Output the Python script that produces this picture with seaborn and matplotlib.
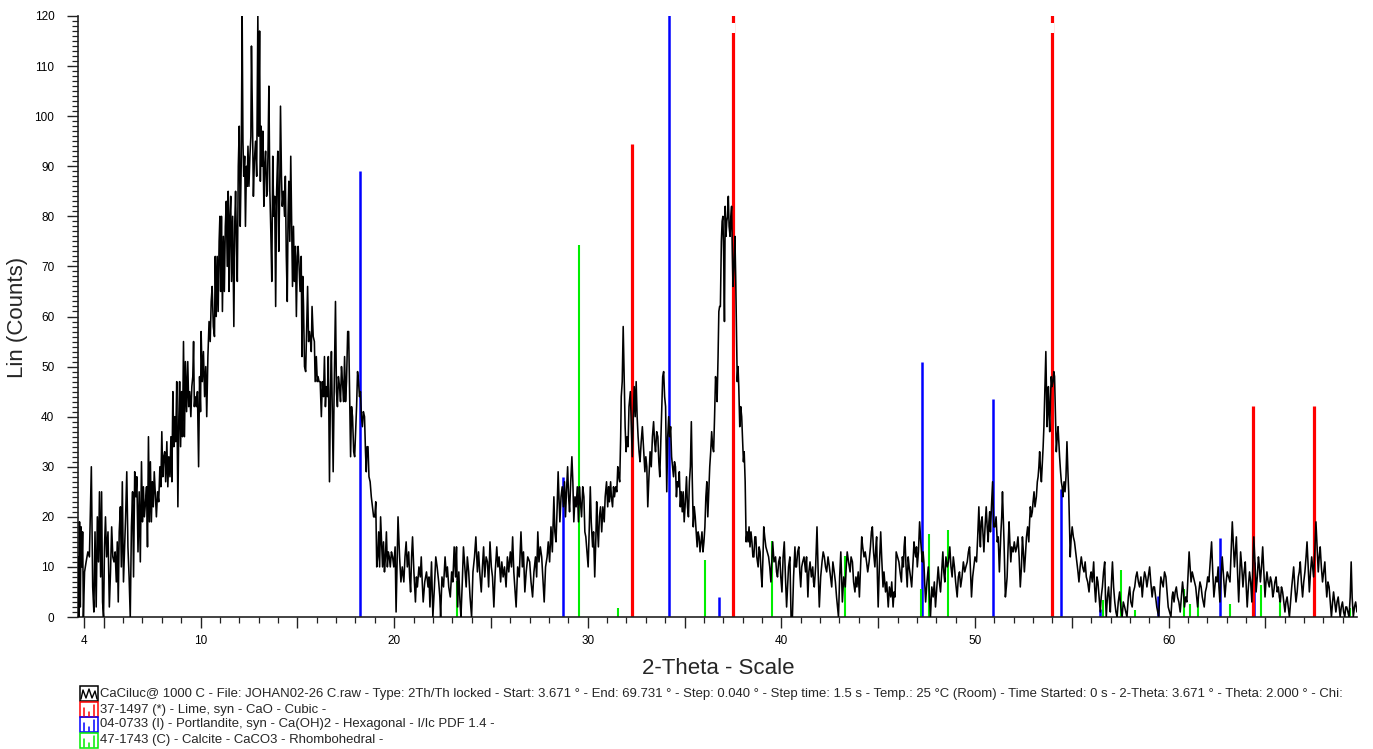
import numpy as np
import pandas as pd
import matplotlib
matplotlib.use("Agg")
import matplotlib.pyplot as plt
import seaborn as sns
from matplotlib.patches import Rectangle
from matplotlib.lines import Line2D

sns.set_style("ticks")
plt.rcParams["font.family"] = ["Liberation Sans", "DejaVu Sans"]

# ---------------- data ----------------
x_min, x_max = 3.671, 69.731
y_max = 120

seg_a = [(3.67,12),(3.71,0),(3.75,19),(3.79,2),(3.83,18),(3.87,10),(3.91,17),(3.95,0),(4.01,9),(4.09,11),
 (4.18,13),(4.26,12),(4.36,30),(4.43,6),(4.49,1),(4.55,17),(4.61,2),(4.67,20),(4.73,11),(4.78,25),(4.84,8),
 (4.89,25),(4.94,3),(4.99,0),(5.04,14),(5.09,20),(5.15,12),(5.22,17),(5.29,2),(5.35,9),(5.41,18),(5.47,12),
 (5.53,11),(5.59,13),(5.65,7),(5.7,15),(5.75,3),(5.8,17),(5.86,22),(5.91,10),(5.96,27),(6.02,7),(6.08,14),
 (6.13,20),(6.19,29),(6.25,14),(6.31,8),(6.37,0),(6.43,18),(6.49,25),(6.54,8),(6.6,29),(6.66,24),(6.71,28),
 (6.77,13),(6.83,25),(6.89,11),(6.95,31),(7.0,19),(7.05,26),(7.1,20),(7.16,23),(7.21,26),(7.26,14),(7.31,36),
 (7.36,19),(7.41,31),(7.46,19),(7.51,27),(7.56,22),(7.61,29),(7.67,24),(7.72,20),(7.78,25),(7.84,23),(7.9,30),
 (7.95,26),(8.0,37),(8.05,28),(8.1,32),(8.15,33),(8.2,27),(8.26,35),(8.31,26),(8.36,32),(8.42,28),(8.47,36),
 (8.52,27),(8.57,45),(8.62,34),(8.67,40),(8.72,35),(8.77,47),(8.83,22),(8.88,40),(8.92,47),(8.97,34),(9.02,45),
 (9.07,36),(9.12,55),(9.17,36),(9.22,51),(9.28,41),(9.34,51),(9.39,42),(9.44,45),(9.5,40),(9.55,46),(9.6,48),
 (9.64,55),(9.68,42),(9.72,44),(9.78,42),(9.84,45),(9.9,30),(9.95,48),(10.0,41)]

seg_b = [(10.03,57),(10.09,47),(10.15,53),(10.21,44),(10.27,50),(10.32,40),(10.38,52),(10.44,59),(10.5,55),
 (10.55,63),(10.6,66),(10.66,58),(10.72,56),(10.76,72),(10.81,60),(10.86,72),(10.91,61),(10.96,75),(11.0,80),
 (11.04,65),(11.08,80),(11.13,61),(11.18,76),(11.23,65),(11.28,78),(11.33,83),(11.38,70),(11.43,85),(11.47,65),
 (11.52,80),(11.56,84),(11.6,67),(11.66,80),(11.72,58),(11.77,79),(11.81,85),(11.86,74),(11.9,67),(11.95,90),
 (12.0,98),(12.05,78),(12.1,90),(12.15,120),(12.19,95),(12.23,88),(12.28,92),(12.32,78),(12.37,90),(12.41,86),
 (12.45,94),(12.5,86),(12.55,92),(12.6,96),(12.63,114),(12.68,100),(12.73,84),(12.78,91),(12.84,95),(12.9,88),
 (12.96,120),(13.0,96),(13.05,117),(13.09,87),(13.13,98),(13.18,90),(13.22,97),(13.27,82),(13.31,90),(13.36,93),
 (13.41,84),(13.45,85),(13.49,94),(13.53,106),(13.58,85),(13.63,77),(13.68,67),(13.73,92),(13.78,80),(13.83,84),
 (13.88,62),(13.93,85),(13.99,93),(14.04,73),(14.09,85),(14.13,102),(14.18,88),(14.22,82),(14.28,85),(14.34,80),
 (14.38,88),(14.43,72),(14.48,63),(14.52,80),(14.56,87),(14.61,75),(14.66,92),(14.7,80),(14.75,66),(14.8,78),
 (14.85,67),(14.9,74),(14.95,60),(15.0,72),(15.04,74),(15.09,70),(15.14,65),(15.2,72),(15.24,52),(15.28,68),
 (15.32,62),(15.37,50),(15.43,49),(15.48,58),(15.53,66),(15.58,55),(15.63,57),(15.68,55),(15.72,53),(15.76,62),
 (15.82,56),(15.88,55),(15.92,47),(15.98,52),(16.03,47),(16.07,48),(16.12,47),(16.18,47),(16.24,40),(16.29,47),
 (16.35,44),(16.4,52),(16.45,42),(16.5,46),(16.55,44),(16.6,52),(16.66,27),(16.71,45),(16.76,53),(16.81,40),
 (16.85,29),(16.9,45),(16.97,63),(17.02,45),(17.07,42),(17.12,48),(17.18,46),(17.23,43),(17.28,50),(17.33,47),
 (17.39,43),(17.44,52),(17.49,43),(17.54,47),(17.6,57),(17.65,57),(17.7,45),(17.75,32),(17.8,42),(17.85,40),
 (17.91,33),(17.96,32),(18.01,37),(18.06,42),(18.11,49),(18.16,47),(18.21,44),(18.26,45),(18.31,40),(18.36,38),
 (18.41,41),(18.47,40),(18.52,33),(18.56,29),(18.6,34),(18.65,34),(18.7,28),(18.76,27),(18.82,24),(18.88,22),
 (18.94,20),(19.0,20),(19.05,23),(19.1,10),(19.15,12),(19.2,17),(19.25,10),(19.3,20),(19.35,15),(19.4,10),
 (19.45,15),(19.5,9),(19.55,12),(19.6,17),(19.65,10),(19.7,13),(19.75,12),(19.8,10),(19.86,13),(19.92,12),
 (19.98,10),(20.05,14),(20.1,1),(20.15,10),(20.2,20)]

seg_c = [(20.28,12),(20.35,7),(20.42,10),(20.5,7),(20.56,12),(20.62,15),(20.68,10),(20.75,13),(20.8,8),(20.85,5),
 (20.9,12),(20.95,16),(21.02,9),(21.1,3),(21.15,8),(21.2,6),(21.28,10),(21.35,8),(21.4,12),(21.45,7),(21.5,3),
 (21.58,7),(21.67,9),(21.75,6),(21.8,8),(21.85,2),(21.93,11),(22.0,0),(22.08,6),(22.15,12),(22.22,10),(22.3,7),
 (22.36,4),(22.4,0),(22.47,8),(22.55,6),(22.63,12),(22.7,8),(22.75,10),(22.82,6),(22.9,4),(22.97,9),(23.03,7),
 (23.1,14),(23.17,8),(23.22,14),(23.28,2),(23.34,9),(23.4,3),(23.45,0),(23.52,7),(23.58,14),(23.65,10),(23.72,6),
 (23.78,12),(23.85,9),(23.92,4),(24.0,0),(24.07,9),(24.15,12),(24.22,16),(24.3,9),(24.36,13),(24.42,9),(24.5,5),
 (24.56,10),(24.62,14),(24.68,8),(24.75,12),(24.82,11),(24.88,6),(24.95,15),(25.02,10),(25.08,8),(25.15,2),
 (25.22,9),(25.3,14),(25.36,10),(25.42,12),(25.5,7),(25.56,11),(25.63,8),(25.7,10),(25.78,6),(25.85,12),(25.92,9),
 (26.0,13),(26.06,10),(26.12,16),(26.18,9),(26.25,5),(26.3,2),(26.38,10),(26.46,8),(26.55,17),(26.62,10),
 (26.68,13),(26.75,5),(26.82,9),(26.9,12),(27.0,11),(27.07,7),(27.15,4),(27.22,9),(27.3,12),(27.36,8),(27.42,17),
 (27.48,11),(27.55,14),(27.62,12),(27.68,8),(27.75,3),(27.82,10),(27.9,12),(27.96,15),(28.03,11),(28.1,18),
 (28.17,13),(28.25,24),(28.3,17),(28.36,15),(28.42,22),(28.47,29),(28.52,23),(28.56,19),(28.62,24),(28.68,26),
 (28.74,22),(28.8,27),(28.85,20),(28.9,25),(28.96,30),(29.01,24),(29.06,21),(29.12,27),(29.18,32),(29.23,27),
 (29.28,19),(29.34,24),(29.4,22),(29.46,26),(29.52,19),(29.57,26),(29.62,23),(29.68,20),(29.74,26),(29.8,24),
 (29.85,17),(29.9,16),(29.96,13),(30.02,10),(30.08,18),(30.13,26),(30.18,19),(30.25,14),(30.3,17),(30.36,8),
 (30.42,16),(30.46,23),(30.5,18),(30.55,14),(30.6,20),(30.66,22),(30.72,17),(30.78,22),(30.85,19),(30.9,24),
 (30.97,27),(31.03,22),(31.08,26),(31.12,23),(31.18,27),(31.22,24),(31.28,22),(31.33,26),(31.38,24),(31.44,26),
 (31.5,25),(31.55,30),(31.6,28),(31.65,27)]

seg_d = [(31.7,36),(31.73,44),(31.78,47),(31.83,58),(31.88,48),(31.93,38),(31.98,33),(32.03,36),(32.08,34),
 (32.13,42),(32.2,45),(32.25,38),(32.3,32),(32.35,40),(32.4,46),(32.45,40),(32.5,47),(32.55,40),(32.6,36),
 (32.65,33),(32.7,31),(32.76,35),(32.82,38),(32.88,34),(32.95,29),(33.0,32),(33.05,30),(33.1,22),(33.16,28),
 (33.22,33),(33.28,30),(33.34,36),(33.4,39),(33.45,35),(33.5,33),(33.56,37),(33.62,36),(33.67,31),(33.72,28),
 (33.78,36),(33.83,42),(33.87,48),(33.92,49),(33.97,44),(34.02,42),(34.08,25),(34.13,36),(34.18,40),(34.23,36),
 (34.28,38),(34.33,32),(34.38,30),(34.43,28),(34.48,31),(34.53,30),(34.58,24),(34.63,27),(34.68,26),(34.73,29),
 (34.78,22),(34.83,25),(34.88,21),(34.93,25),(34.98,19),(35.04,23),(35.1,28),(35.15,22),(35.2,20),(35.25,27),
 (35.3,30),(35.35,39),(35.4,27),(35.45,18),(35.5,22),(35.55,20),(35.6,17),(35.65,14),(35.7,17),(35.75,16),
 (35.8,13),(35.85,15),(35.9,17),(35.95,13),(36.0,15),(36.05,18),(36.1,24),(36.15,27),(36.2,20),(36.25,25),
 (36.3,30),(36.35,33),(36.4,37),(36.45,34),(36.5,33),(36.55,40),(36.6,48),(36.65,46),(36.68,43),(36.73,52),
 (36.77,61),(36.81,62),(36.85,62),(36.9,75),(36.94,79),(36.98,80),(37.02,72),(37.06,59),(37.1,82),(37.14,76),
 (37.18,79),(37.22,80),(37.26,84),(37.3,78),(37.35,76),(37.39,80),(37.43,82),(37.47,72),(37.5,66),(37.55,70),
 (37.6,76),(37.64,68),(37.68,58),(37.72,47),(37.76,50),(37.8,46),(37.85,38),(37.9,42),(37.95,40),(38.0,35),
 (38.04,31),(38.08,33),(38.13,27),(38.18,15),(38.23,17),(38.28,15),(38.33,18),(38.38,14),(38.43,17),(38.48,15),
 (38.53,12),(38.58,12),(38.63,16),(38.68,16),(38.73,12),(38.8,10),(38.85,14),(38.9,13),(38.95,9),(39.0,6),
 (39.05,12),(39.09,18),(39.14,16),(39.2,14),(39.27,13),(39.34,12),(39.4,10),(39.46,7),(39.55,15),(39.62,11),
 (39.7,12),(39.75,9),(39.8,8),(39.86,11),(39.92,12),(39.97,8),(40.03,5),(40.09,12),(40.15,15),(40.21,8),
 (40.27,2),(40.32,6),(40.37,10),(40.44,12),(40.5,0)]

seg_e = [(40.57,0),(40.63,8),(40.7,14),(40.74,10),(40.78,10),(40.84,13),(40.9,14),(40.95,9),(41.0,6),(41.05,10),
 (41.1,11),(41.17,12),(41.25,9),(41.3,12),(41.37,4),(41.42,9),(41.48,11),(41.55,8),(41.62,10),(41.66,7),(41.7,6),
 (41.77,10),(41.84,18),(41.9,9),(41.96,2),(42.03,8),(42.1,11),(42.16,13),(42.22,12),(42.28,10),(42.34,9),
 (42.41,12),(42.48,10),(42.54,8),(42.6,6),(42.66,11),(42.73,9),(42.79,7),(42.85,4),(42.9,2),(42.95,0),(43.01,8),
 (43.07,13),(43.12,7),(43.15,3),(43.22,8),(43.3,6),(43.35,10),(43.4,13),(43.47,11),(43.55,9),(43.6,12),(43.67,11),
 (43.73,7),(43.8,5),(43.85,8),(43.9,6),(43.97,9),(44.03,4),(44.09,10),(44.15,16),(44.2,14),(44.27,12),(44.33,13),
 (44.4,11),(44.46,9),(44.53,11),(44.6,14),(44.65,17),(44.7,18),(44.76,13),(44.83,10),(44.88,14),(44.92,16),
 (44.96,8),(45.0,2),(45.06,10),(45.13,17),(45.18,12),(45.25,6),(45.3,9),(45.38,5),(45.44,7),(45.52,2),(45.58,6),
 (45.65,4),(45.7,7),(45.77,2),(45.82,5),(45.87,4),(45.93,13),(46.0,12),(46.07,11),(46.13,9),(46.2,7),(46.25,12),
 (46.3,10),(46.34,14),(46.38,16),(46.44,10),(46.5,6),(46.55,12),(46.6,10),(46.67,8),(46.73,6),(46.8,11),
 (46.85,15),(46.9,13),(46.94,12),(46.98,14),(47.02,10),(47.08,13),(47.14,19),(47.2,15),(47.28,11),(47.32,13),
 (47.36,11),(47.4,7),(47.45,3),(47.52,7),(47.59,10),(47.64,5),(47.7,0),(47.77,6),(47.84,4),(47.9,7),(47.96,2),
 (48.03,6),(48.1,10),(48.16,7),(48.22,5),(48.28,9),(48.34,13),(48.39,9),(48.44,7),(48.5,12),(48.57,10),(48.63,11),
 (48.7,14),(48.76,10),(48.82,8),(48.88,12),(48.94,10),(49.0,7),(49.08,4),(49.14,8),(49.2,9),(49.26,6),(49.33,8),
 (49.4,11),(49.47,9),(49.53,10),(49.6,11),(49.66,13),(49.72,14),(49.77,9),(49.82,4),(49.88,8),(49.94,10)]

seg_f = [(50.0,12),(50.08,11),(50.14,16),(50.2,22),(50.24,17),(50.28,14),(50.32,19),(50.37,20),(50.42,16),
 (50.46,13),(50.52,18),(50.58,22),(50.63,18),(50.68,15),(50.72,19),(50.76,21),(50.8,17),(50.85,22),(50.91,27),
 (50.97,18),(51.03,18),(51.09,20),(51.15,15),(51.2,16),(51.26,9),(51.3,13),(51.34,17),(51.38,20),(51.42,25),
 (51.46,20),(51.5,15),(51.57,4),(51.62,6),(51.66,8),(51.71,14),(51.76,19),(51.8,15),(51.85,11),(51.9,14),
 (51.97,13),(52.03,15),(52.1,13),(52.16,14),(52.22,16),(52.28,12),(52.34,6),(52.4,10),(52.45,16),(52.5,13),
 (52.55,9),(52.6,12),(52.66,16),(52.72,18),(52.78,15),(52.82,19),(52.86,22),(52.91,20),(52.96,21),(53.0,23),
 (53.05,25),(53.1,22),(53.17,24),(53.22,27),(53.26,28),(53.3,30),(53.34,33),(53.39,29),(53.43,27),(53.48,31),
 (53.52,34),(53.56,38),(53.6,44),(53.66,53),(53.69,45),(53.72,38),(53.76,42),(53.79,46),(53.83,40),(53.86,37),
 (53.9,44),(53.94,48),(53.98,46),(54.03,47),(54.07,49),(54.11,48),(54.16,40),(54.2,33),(54.25,36),(54.29,38),
 (54.33,35),(54.37,32),(54.42,29),(54.46,27),(54.5,26),(54.54,24),(54.6,27),(54.65,25),(54.7,28),(54.75,35),
 (54.8,29),(54.84,25),(54.88,18),(54.92,12),(54.97,16),(55.02,18),(55.08,16),(55.14,15),(55.2,13),(55.26,11),
 (55.32,9),(55.37,7),(55.43,10),(55.49,12),(55.56,10),(55.63,9),(55.69,11),(55.75,8),(55.82,7),(55.89,5),
 (55.95,8),(56.0,9),(56.06,7),(56.13,11),(56.18,6),(56.23,3),(56.3,8),(56.35,7),(56.41,4),(56.47,1),(56.52,4),
 (56.58,6),(56.64,9),(56.7,11),(56.74,4),(56.78,0),(56.84,4),(56.9,6),(56.95,3),(56.99,1),(57.05,7),(57.1,11),
 (57.16,6),(57.22,3),(57.28,1),(57.34,0),(57.4,3),(57.47,5),(57.53,2),(57.6,0),(57.66,3),(57.73,2),(57.79,1),
 (57.85,0),(57.92,4),(57.99,6),(58.05,3),(58.12,2),(58.18,5),(58.25,6),(58.31,8),(58.37,9),(58.44,7),(58.5,6),
 (58.57,8),(58.64,4),(58.7,7),(58.76,9),(58.82,8),(58.88,6),(58.95,8),(59.02,10),(59.08,7),(59.15,4),(59.21,6),
 (59.27,6),(59.33,4),(59.39,2),(59.44,1),(59.49,0),(59.55,5),(59.6,8),(59.66,7),(59.72,6),(59.79,9),(59.86,8),
 (59.92,5),(59.98,2),(60.05,1),(60.12,0)]

seg_g = [(60.18,4),(60.22,5),(60.28,3),(60.34,5),(60.4,6),(60.46,4),(60.53,3),(60.6,1),(60.66,4),(60.72,7),
 (60.77,5),(60.82,2),(60.88,4),(60.94,3),(61.0,8),(61.06,13),(61.11,10),(61.16,7),(61.22,9),(61.28,8),(61.34,7),
 (61.4,6),(61.45,4),(61.5,2),(61.56,5),(61.62,7),(61.68,6),(61.74,4),(61.79,3),(61.84,2),(61.9,5),(61.96,6),
 (62.02,8),(62.08,7),(62.15,11),(62.22,15),(62.28,9),(62.34,4),(62.39,6),(62.44,8),(62.5,7),(62.56,10),(62.6,6),
 (62.65,3),(62.71,8),(62.77,12),(62.84,8),(62.91,4),(62.97,7),(63.03,9),(63.1,8),(63.17,7),(63.23,13),(63.29,19),
 (63.34,15),(63.4,10),(63.45,13),(63.5,16),(63.56,9),(63.62,3),(63.67,8),(63.72,13),(63.78,10),(63.84,6),
 (63.9,9),(63.96,11),(64.01,6),(64.06,2),(64.12,6),(64.18,9),(64.24,7),(64.3,3),(64.35,10),(64.4,16),(64.46,11),
 (64.52,5),(64.58,8),(64.64,12),(64.69,10),(64.74,7),(64.8,10),(64.86,14),(64.92,9),(64.98,4),(65.03,7),(65.08,9),
 (65.14,7),(65.2,6),(65.26,8),(65.32,7),(65.38,4),(65.43,5),(65.49,7),(65.55,8),(65.61,5),(65.67,6),(65.72,4),
 (65.77,3),(65.83,6),(65.89,5),(65.95,3),(66.01,1),(66.06,3),(66.12,4),(66.18,2),(66.24,0),(66.3,3),(66.36,6),
 (66.41,8),(66.46,10),(66.52,6),(66.58,3),(66.64,5),(66.7,8),(66.75,9),(66.8,11),(66.86,7),(66.92,4),(66.98,7),
 (67.04,9),(67.1,12),(67.15,15),(67.21,10),(67.27,5),(67.33,9),(67.39,12),(67.44,10),(67.49,8),(67.55,13),
 (67.61,19),(67.67,14),(67.73,9),(67.78,12),(67.83,14),(67.89,10),(67.95,7),(68.01,9),(68.07,11),(68.12,7),
 (68.17,4),(68.23,7),(68.29,6),(68.35,3),(68.41,0),(68.47,3),(68.52,5),(68.58,3),(68.64,1),(68.7,3),(68.76,4),
 (68.81,2),(68.86,0),(68.92,2),(68.98,3),(69.04,1),(69.1,0),(69.15,2),(69.2,2),(69.26,1),(69.32,0),(69.38,4),
 (69.43,11),(69.48,4),(69.54,0),(69.6,2),(69.66,3),(69.73,1)]

# reference patterns (stick positions / heights; >120 = off-scale)
lime_theta = [32.31, 37.48, 53.98, 64.35, 67.50]
lime_height = [94.5, 125, 125, 42.1, 42.1]
portlandite_theta = [18.22, 28.72, 34.20, 36.80, 47.24, 50.93, 54.44, 56.45, 59.45, 62.67, 64.42]
portlandite_height = [89.1, 27.9, 125, 4.0, 50.9, 43.5, 25.6, 1.5, 4.1, 15.8, 11.0]
calcite_theta = [23.24, 29.54, 31.55, 36.05, 39.52, 43.29, 47.22, 47.64, 48.59, 56.62, 57.52,
                 58.26, 60.80, 61.10, 61.50, 63.18, 64.77, 65.77, 69.35]
calcite_height = [7.1, 74.3, 1.8, 11.3, 15.2, 12.2, 5.5, 16.6, 17.4, 3.4, 9.4,
                  1.4, 5.5, 2.6, 3.4, 2.6, 6.3, 4.1, 1.8]

x_tick_values = [4, 5, 10, 15, 20, 25, 30, 35, 40, 45, 50, 55, 60, 65]
x_tick_labels = ["4", "", "10", "", "20", "", "30", "", "40", "", "50", "", "60", ""]
y_tick_values = list(range(0, 121, 10))

legend_texts = [
    "CaCiluc@ 1000 C - File: JOHAN02-26 C.raw - Type: 2Th/Th locked - Start: 3.671 \u00b0 - End: 69.731 \u00b0 - "
    "Step: 0.040 \u00b0 - Step time: 1.5 s - Temp.: 25 \u00b0C (Room) - Time Started: 0 s - 2-Theta: 3.671 \u00b0 - "
    "Theta: 2.000 \u00b0 - Chi:",
    "37-1497 (*) - Lime, syn - CaO - Cubic -",
    "04-0733 (I) - Portlandite, syn - Ca(OH)2 - Hexagonal - I/Ic PDF 1.4 -",
    "47-1743 (C) - Calcite - CaCO3 - Rhombohedral -",
]

RED, BLUE, GREEN = "#ff0000", "#0000ff", "#00ee00"

# ---------------- figure ----------------
W, H = 1373, 749
fig = plt.figure(figsize=(W / 100, H / 100), dpi=100)
ax = fig.add_axes([78 / W, 1 - 617 / H, (1357 - 78) / W, (617 - 16) / H])

# sticks
ax.vlines(portlandite_theta, 0, portlandite_height, colors=BLUE, lw=1.8, zorder=2)
ax.vlines(calcite_theta, 0, calcite_height, colors=GREEN, lw=1.5, zorder=2)
ax.vlines(lime_theta, 0, lime_height, colors=RED, lw=2.3, zorder=2)
off = [t for t, h in zip(lime_theta, lime_height) if h > y_max]
ax.vlines(off, y_max - 3.4, y_max - 1.4, colors="white", lw=3, zorder=2.5)

# measured scan
df = pd.DataFrame(seg_a + seg_b + seg_c + seg_d + seg_e + seg_f + seg_g, columns=["theta", "counts"])
sns.lineplot(data=df, x="theta", y="counts", ax=ax, color="black", lw=1.15,
             estimator=None, sort=True, zorder=3)

ax.set_xlim(x_min, x_max)
ax.set_ylim(0, y_max)
ax.set_xlabel("")
ax.set_ylabel("")
for s in ["top", "right"]:
    ax.spines[s].set_visible(False)
for s in ["left", "bottom"]:
    ax.spines[s].set_linewidth(1.2)
    ax.spines[s].set_color("#222222")

ax.set_xticks(x_tick_values)
ax.set_xticklabels(x_tick_labels)
ax.set_xticks(np.arange(4, 70, 1), minor=True)
ax.set_yticks(y_tick_values)
ax.set_yticklabels([str(v) for v in y_tick_values])
ax.set_yticks(np.arange(0, 121, 1), minor=True)
ax.tick_params(axis="both", which="major", direction="out", length=8, width=1.0,
               labelsize=8.5, colors="#222222", labelcolor="black")
ax.tick_params(axis="x", which="major", pad=5)
ax.tick_params(axis="y", which="major", pad=9)
ax.tick_params(axis="both", which="minor", direction="out", length=4.5, width=0.9, colors="#222222")
ax.grid(False)

fig.text(18 / W, 1 - 317 / H, "Lin (Counts)", rotation=90, ha="center", va="center", fontsize=16)
fig.text(718 / W, 1 - 668 / H, "2-Theta - Scale", ha="center", va="center", fontsize=16)

# ---------------- legend block ----------------
def fx(px):
    return px / W

def fy(py):
    return 1 - py / H

row_top = [686, 702, 717, 733]
box_h = 15
box_l, box_r = 80, 98
colors = ["black", RED, BLUE, GREEN]

renderer = fig.canvas.get_renderer()
t0 = fig.text(fx(100), fy(row_top[0] + box_h / 2), legend_texts[0], ha="left", va="center", fontsize=8.5)
wpx = t0.get_window_extent(renderer).width
fs = 8.5 * (1335 - 100) / wpx
t0.set_fontsize(fs)

for i, (c, txt) in enumerate(zip(colors, legend_texts)):
    top = row_top[i]
    fig.add_artist(Rectangle((fx(box_l), fy(top + box_h)), fx(box_r - box_l), (box_h) / H,
                             fill=False, edgecolor=c, lw=1.1, transform=fig.transFigure))
    if i == 0:
        zx = [81, 83, 86, 89, 92, 95, 97]
        zy = [top + 13, top + 4, top + 12, top + 3, top + 12, top + 5, top + 13]
        fig.add_artist(Line2D([fx(v) for v in zx], [fy(v) for v in zy], color="black", lw=1.0,
                              transform=fig.transFigure))
    else:
        for sx, sh in zip([84, 89, 94], [8, 4, 11]):
            fig.add_artist(Line2D([fx(sx), fx(sx)], [fy(top + box_h - 1), fy(top + box_h - 1 - sh)],
                                  color=c, lw=1.1, transform=fig.transFigure))
    if i > 0:
        fig.text(fx(100), fy(top + box_h / 2), txt, ha="left", va="center", fontsize=fs)

fig.savefig("out.png", dpi=100)
